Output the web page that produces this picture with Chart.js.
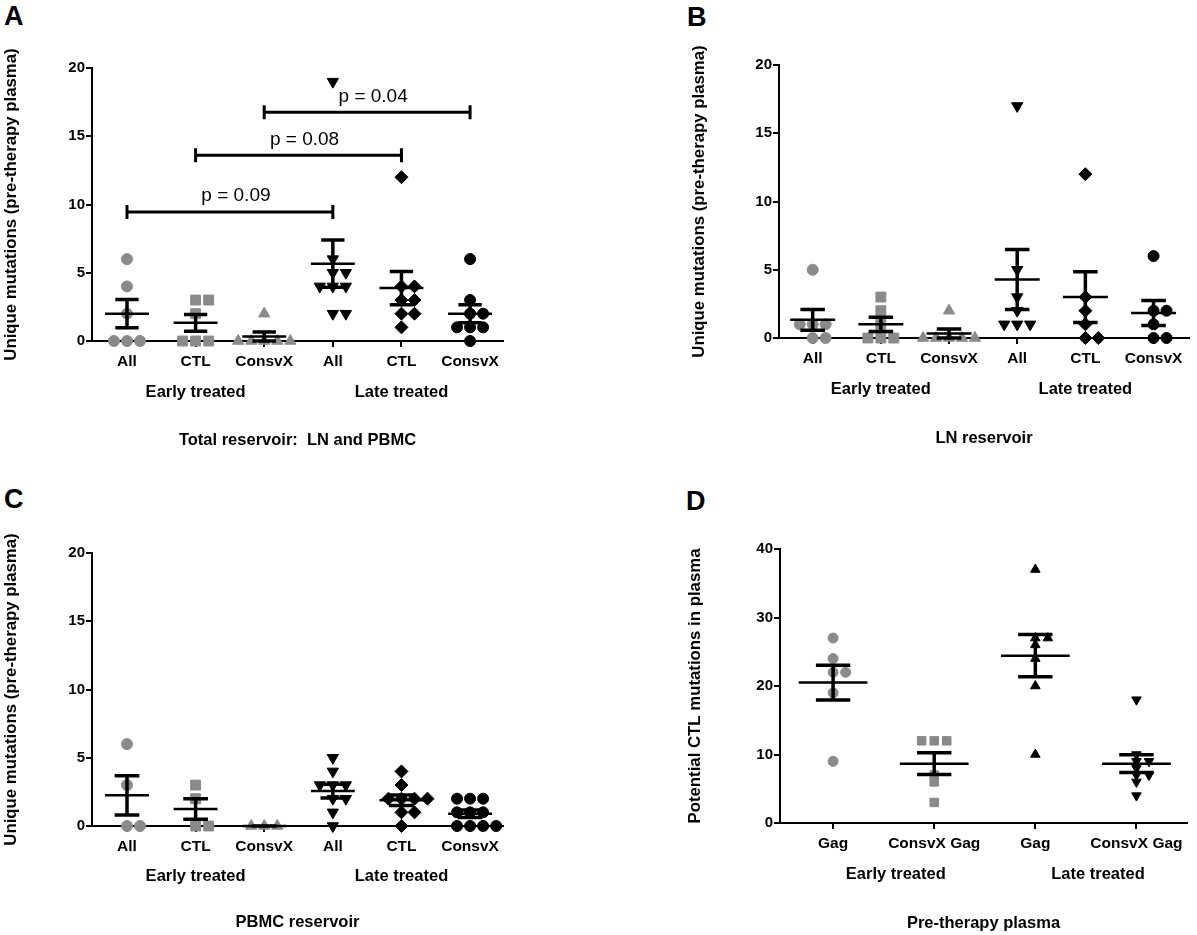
<!DOCTYPE html>
<html>
<head>
<meta charset="utf-8">
<title>Unique mutations in reservoir</title>
<script src="https://cdn.jsdelivr.net/npm/chart.js@4.4.1/dist/chart.umd.min.js"></script>
<style>
  html, body { margin: 0; padding: 0; background: #fff; overflow: hidden; }
  body { width: 1197px; height: 935px; position: relative; font-family: 'Liberation Sans', Arial, sans-serif; }
  canvas { position: absolute; }
  .tag { position: absolute; font-weight: bold; font-size: 27px; line-height: 27px; color: #000; }
</style>
</head>
<body>
<div class="tag" style="left:4px;top:3px">A</div>
<div class="tag" style="left:687px;top:4px">B</div>
<div class="tag" style="left:4px;top:486px">C</div>
<div class="tag" style="left:686px;top:488px">D</div>

<canvas id="chart-a" width="600" height="470" style="left:0px;top:0px"></canvas>
<canvas id="chart-b" width="597" height="470" style="left:600px;top:0px"></canvas>
<canvas id="chart-c" width="600" height="465" style="left:0px;top:470px"></canvas>
<canvas id="chart-d" width="597" height="465" style="left:600px;top:470px"></canvas>

<script>
'use strict';

// ********** DATA **********

let reservoirCats = ['All', 'CTL', 'ConsvX', 'All', 'CTL', 'ConsvX'];
let plasmaCats = ['Gag', 'ConsvX Gag', 'Gag', 'ConsvX Gag'];
let groupNames = ['Early treated', 'Late treated'];

// A - total reservoir (LN and PBMC)
let totalEarlyAll = [6, 4, 2, 0, 0, 0];
let totalEarlyCtl = [3, 3, 2, 0, 0, 0];
let totalEarlyConsvx = [2, 0, 0, 0, 0, 0];
let totalLateAll = [19, 6, 5, 5, 4, 4, 4, 2, 2];
let totalLateCtl = [12, 4, 4, 3, 3, 2, 2, 1];
let totalLateConsvx = [6, 3, 2, 2, 1, 1, 1, 0];

// A - p value brackets (category numbers and bracket height)
let pLabels = ['p = 0.09', 'p = 0.08', 'p = 0.04'];
let pFrom = [1, 2, 3];
let pTo = [4, 5, 6];
let pLevel = [9.45, 13.6, 16.75];

// B - LN reservoir
let lnEarlyAll = [5, 1, 1, 1, 0, 0];
let lnEarlyCtl = [3, 2, 1, 0, 0, 0];
let lnEarlyConsvx = [2, 0, 0, 0, 0, 0];
let lnLateAll = [17, 5, 3, 2, 1, 1, 1];
let lnLateCtl = [12, 3, 2, 1, 0, 0];
let lnLateConsvx = [6, 2, 2, 1, 0, 0];

// C - PBMC reservoir
let pbmcEarlyAll = [6, 3, 0, 0];
let pbmcEarlyCtl = [3, 2, 0, 0];
let pbmcEarlyConsvx = [0, 0, 0];
let pbmcLateAll = [5, 4, 3, 3, 3, 2, 2, 1, 0];
let pbmcLateCtl = [4, 3, 2, 2, 2, 2, 1, 1, 0];
let pbmcLateConsvx = [2, 2, 2, 1, 1, 1, 0, 0, 0, 0];

// D - pre-therapy plasma
let plasmaEarlyGag = [27, 24, 22, 22, 19, 9];
let plasmaEarlyConsvxGag = [12, 12, 12, 7, 6, 3];
let plasmaLateGag = [37, 27, 27, 26, 24, 20, 10];
let plasmaLateConsvxGag = [18, 10, 9, 9, 8, 7, 7, 6, 4];

// ********** STYLE **********

let GREY = '#8a8a8a';
let BLACK = '#000000';
let FAMILY = "'Liberation Sans', Arial, sans-serif";

let reservoirMarks = [
  { style: 'circle', color: GREY, radius: 5.5, rotation: 0 },
  { style: 'rect', color: GREY, radius: 7, rotation: 0 },
  { style: 'triangle', color: GREY, radius: 6.5, rotation: 0 },
  { style: 'triangle', color: BLACK, radius: 6.5, rotation: 180 },
  { style: 'rectRot', color: BLACK, radius: 6.5, rotation: 0 },
  { style: 'circle', color: BLACK, radius: 5.5, rotation: 0 }
];

let plasmaMarks = [
  { style: 'circle', color: GREY, radius: 5, rotation: 0 },
  { style: 'rect', color: GREY, radius: 6, rotation: 0 },
  { style: 'triangle', color: BLACK, radius: 5.5, rotation: 0 },
  { style: 'triangle', color: BLACK, radius: 5.5, rotation: 180 }
];

// ********** HELPER FUNCTIONS **********

// spread repeated values sideways: centre, right, left, right, left...
function spreadPoints(values, slot, step) {
  let seen = {};
  return values.map(function (v) {
    let k = seen[v] || 0;
    seen[v] = k + 1;
    let shift = k === 0 ? 0 : (k % 2 === 1 ? (k + 1) / 2 : -k / 2);
    return { x: slot + shift * step, y: v };
  });
}

function meanSem(values) {
  let n = values.length;
  let mean = values.reduce((a, b) => a + b, 0) / n;
  let ss = values.reduce((a, b) => a + (b - mean) * (b - mean), 0);
  let sem = n > 1 ? Math.sqrt(ss / (n - 1)) / Math.sqrt(n) : 0;
  return { mean: mean, sem: sem };
}

function statLines(series, meanHalf, capHalf) {
  let meanPts = [];
  let barPts = [];
  series.forEach(function (vals, i) {
    let c = i + 1;
    let s = meanSem(vals);
    let lo = s.mean - s.sem;
    let hi = s.mean + s.sem;
    meanPts.push({ x: c - meanHalf, y: s.mean }, { x: c + meanHalf, y: s.mean }, { x: c, y: null });
    barPts.push({ x: c, y: lo }, { x: c, y: hi }, { x: c, y: null });
    barPts.push({ x: c - capHalf, y: hi }, { x: c + capHalf, y: hi }, { x: c, y: null });
    barPts.push({ x: c - capHalf, y: lo }, { x: c + capHalf, y: lo }, { x: c, y: null });
  });
  return { meanPts: meanPts, barPts: barPts };
}

// p value brackets for panel A
let bracketPlugin = {
  id: 'pBrackets',
  afterDatasetsDraw(chart) {
    let ctx = chart.ctx;
    let xs = chart.scales.x;
    let ys = chart.scales.y;
    ctx.save();
    ctx.strokeStyle = BLACK;
    ctx.fillStyle = BLACK;
    ctx.lineWidth = 3;
    ctx.font = '19px ' + FAMILY;
    ctx.textAlign = 'center';
    ctx.textBaseline = 'middle';
    for (let i = 0; i < pLabels.length; i++) {
      let x1 = xs.getPixelForValue(pFrom[i]);
      let x2 = xs.getPixelForValue(pTo[i]);
      let y = ys.getPixelForValue(pLevel[i]);
      ctx.beginPath();
      ctx.moveTo(x1, y); ctx.lineTo(x2, y);
      ctx.moveTo(x1, y - 7); ctx.lineTo(x1, y + 7);
      ctx.moveTo(x2, y - 7); ctx.lineTo(x2, y + 7);
      ctx.stroke();
      ctx.fillText(pLabels[i], (x1 + x2) / 2 + 6, y - 16);
    }
    ctx.restore();
  }
};

// ********** CHART RENDERING **********

function renderPanel(id, cfg) {
  let datasets = cfg.series.map(function (vals, i) {
    let m = cfg.marks[i];
    return {
      type: 'scatter',
      data: spreadPoints(vals, i + 1, cfg.jitter),
      pointStyle: m.style,
      pointRadius: m.radius,
      pointRotation: m.rotation,
      backgroundColor: m.color,
      borderColor: m.color,
      borderWidth: 1,
      showLine: false,
      clip: false,
      order: 2
    };
  });

  let stats = statLines(cfg.series, cfg.meanHalf, cfg.capHalf);
  datasets.push({
    type: 'line', data: stats.meanPts, borderColor: BLACK, borderWidth: 2.5,
    pointRadius: 0, spanGaps: false, fill: false, tension: 0, clip: false, order: 1
  });
  datasets.push({
    type: 'line', data: stats.barPts, borderColor: BLACK, borderWidth: 3.5,
    pointRadius: 0, spanGaps: false, fill: false, tension: 0, clip: false, order: 0,
    borderCapStyle: 'butt'
  });

  let chartObj = {
    type: 'scatter',
    data: { datasets: datasets },
    options: {
      responsive: false,
      animation: false,
      events: [],
      layout: { padding: cfg.padding },
      plugins: { legend: { display: false }, tooltip: { enabled: false } },
      scales: {
        x: {
          type: 'linear', position: 'bottom', weight: 0,
          min: cfg.xMin, max: cfg.xMax,
          afterBuildTicks: function (axis) { axis.ticks = cfg.cats.map((c, i) => ({ value: i + 1 })); },
          afterFit: function (axis) { axis.height = 32; },
          grid: { display: true, drawOnChartArea: false, drawTicks: true, tickLength: 6, color: BLACK, lineWidth: 2 },
          border: { display: true, color: BLACK, width: 2 },
          ticks: {
            color: BLACK, padding: 5, autoSkip: false, maxRotation: 0,
            font: { family: FAMILY, size: 15.5, weight: 'bold' },
            callback: (v, i) => cfg.cats[i]
          }
        },
        x2: {
          type: 'linear', position: 'bottom', weight: 1,
          min: cfg.xMin, max: cfg.xMax,
          afterBuildTicks: function (axis) { axis.ticks = cfg.groupAt.map(v => ({ value: v })); },
          afterFit: function (axis) { axis.height = cfg.x2Height; },
          grid: { display: false, drawTicks: false },
          border: { display: false },
          ticks: {
            color: BLACK, padding: cfg.groupPad, autoSkip: false, maxRotation: 0,
            font: { family: FAMILY, size: 16.5, weight: 'bold' },
            callback: (v, i) => groupNames[i]
          },
          title: {
            display: true, text: cfg.xTitle, color: BLACK, padding: 0,
            font: { family: FAMILY, size: 16.5, weight: 'bold' }
          }
        },
        y: {
          type: 'linear', min: 0, max: cfg.yMax,
          afterFit: function (axis) { axis.width = cfg.yWidth; },
          grid: { display: true, drawOnChartArea: false, drawTicks: true, tickLength: 6, color: BLACK, lineWidth: 2 },
          border: { display: true, color: BLACK, width: 2 },
          ticks: {
            stepSize: cfg.yStep, color: BLACK, padding: 1,
            font: { family: FAMILY, size: 15, weight: 'bold' }
          },
          title: {
            display: true, text: cfg.yTitle, color: BLACK, padding: { top: 1, bottom: 0 },
            font: { family: FAMILY, size: 16.8, weight: 'bold' }
          }
        }
      }
    },
    plugins: cfg.brackets ? [bracketPlugin] : []
  };
  new Chart(document.getElementById(id), chartObj); //eslint-disable-line
}

// ********** EXECUTABLE CODE **********

let reservoirTitle = 'Unique mutations (pre-therapy plasma)';

renderPanel('chart-a', {
  cats: reservoirCats,
  series: [totalEarlyAll, totalEarlyCtl, totalEarlyConsvx, totalLateAll, totalLateCtl, totalLateConsvx],
  marks: reservoirMarks,
  yMax: 20, yStep: 5, yTitle: reservoirTitle, xTitle: 'Total reservoir:  LN and PBMC',
  padding: { left: 0, top: 68, right: 97, bottom: 20 },
  yWidth: 92, xMin: 0.49, xMax: 6.48, x2Height: 77, groupPad: 10, groupAt: [2, 5],
  jitter: 0.19, meanHalf: 0.32, capHalf: 0.17, brackets: true
});

renderPanel('chart-b', {
  cats: reservoirCats,
  series: [lnEarlyAll, lnEarlyCtl, lnEarlyConsvx, lnLateAll, lnLateCtl, lnLateConsvx],
  marks: reservoirMarks,
  yMax: 20, yStep: 5, yTitle: reservoirTitle, xTitle: 'LN reservoir',
  padding: { left: 88, top: 65, right: 4, bottom: 22 },
  yWidth: 91, xMin: 0.506, xMax: 6.52, x2Height: 78, groupPad: 10, groupAt: [2, 5],
  jitter: 0.19, meanHalf: 0.33, capHalf: 0.18
});

renderPanel('chart-c', {
  cats: reservoirCats,
  series: [pbmcEarlyAll, pbmcEarlyCtl, pbmcEarlyConsvx, pbmcLateAll, pbmcLateCtl, pbmcLateConsvx],
  marks: reservoirMarks,
  yMax: 20, yStep: 5, yTitle: reservoirTitle, xTitle: 'PBMC reservoir',
  padding: { left: 0, top: 83, right: 97, bottom: 3 },
  yWidth: 92, xMin: 0.49, xMax: 6.48, x2Height: 74, groupPad: 9, groupAt: [2, 5],
  jitter: 0.19, meanHalf: 0.32, capHalf: 0.18
});

renderPanel('chart-d', {
  cats: plasmaCats,
  series: [plasmaEarlyGag, plasmaEarlyConsvxGag, plasmaLateGag, plasmaLateConsvxGag],
  marks: plasmaMarks,
  yMax: 40, yStep: 10, yTitle: 'Potential CTL mutations in plasma', xTitle: 'Pre-therapy plasma',
  padding: { left: 84, top: 79, right: 10, bottom: 2 },
  yWidth: 96, xMin: 0.475, xMax: 4.5, x2Height: 78, groupPad: 10, groupAt: [1.62, 3.62],
  jitter: 0.124, meanHalf: 0.34, capHalf: 0.17
});
</script>
</body>
</html>
